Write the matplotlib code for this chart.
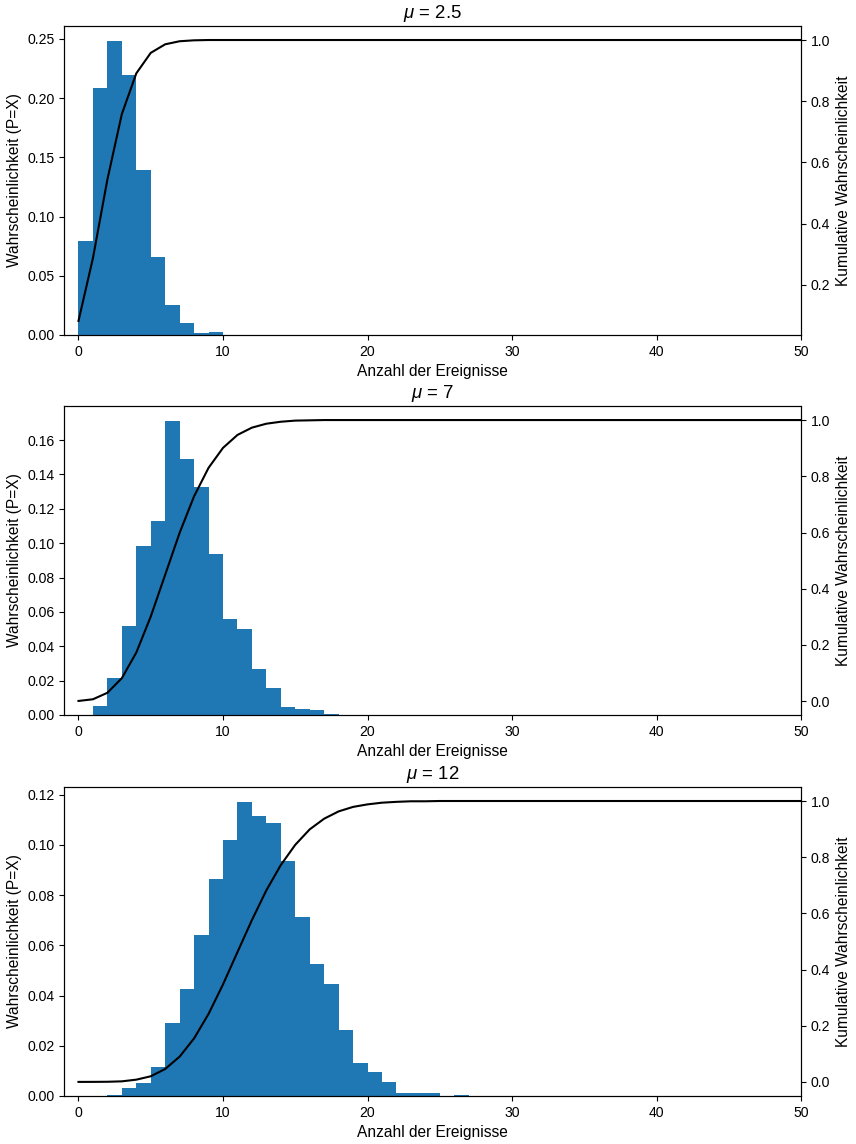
import matplotlib
matplotlib.use("Agg")
import matplotlib.pyplot as plt

plt.rcParams['font.family'] = ['Liberation Sans', 'DejaVu Sans']
plt.rcParams['mathtext.fontset'] = 'custom'
plt.rcParams['mathtext.it'] = 'Liberation Sans:italic'
plt.rcParams['font.size'] = 11.2
plt.rcParams['xtick.labelsize'] = 10.1
plt.rcParams['ytick.labelsize'] = 10.1

mus = ["2.5", "7", "12"]

# relative frequencies per bin [k, k+1)
start_1 = 0
hist_1 = [0.0797, 0.2088, 0.2485, 0.2198, 0.1395, 0.0659, 0.0256, 0.0104, 0.0020, 0.0025]

start_2 = 1
hist_2 = [0.0054, 0.0217, 0.0518, 0.0981, 0.1130, 0.1713, 0.1491, 0.1328, 0.0938,
          0.0559, 0.0501, 0.0270, 0.0159, 0.0049, 0.0037, 0.0031, 0.0008]

start_3 = 2
hist_3 = [0.0004, 0.0032, 0.0052, 0.0116, 0.0291, 0.0427, 0.0642, 0.0865, 0.1021,
          0.1172, 0.1116, 0.1088, 0.0937, 0.0714, 0.0526, 0.0447, 0.0263, 0.0132,
          0.0096, 0.0056, 0.0012, 0.0012, 0.0012, 0.0, 0.0004]

# cumulative curve, x = 0, 1, 2, ...
cdf_1 = [0.082, 0.287, 0.544, 0.758, 0.891, 0.958, 0.986, 0.996, 0.999, 1.0,
         1.0, 1.0, 1.0, 1.0, 1.0, 1.0, 1.0, 1.0, 1.0, 1.0,
         1.0, 1.0, 1.0, 1.0, 1.0, 1.0, 1.0, 1.0, 1.0, 1.0,
         1.0, 1.0, 1.0, 1.0, 1.0, 1.0, 1.0, 1.0, 1.0, 1.0,
         1.0, 1.0, 1.0, 1.0, 1.0, 1.0, 1.0, 1.0, 1.0, 1.0, 1.0]
cdf_2 = [0.001, 0.007, 0.030, 0.082, 0.173, 0.301, 0.450, 0.599, 0.729, 0.830,
         0.901, 0.947, 0.973, 0.987, 0.994, 0.998, 0.999, 1.0, 1.0, 1.0,
         1.0, 1.0, 1.0, 1.0, 1.0, 1.0, 1.0, 1.0, 1.0, 1.0,
         1.0, 1.0, 1.0, 1.0, 1.0, 1.0, 1.0, 1.0, 1.0, 1.0,
         1.0, 1.0, 1.0, 1.0, 1.0, 1.0, 1.0, 1.0, 1.0, 1.0, 1.0]
cdf_3 = [0.0, 0.0001, 0.0005, 0.002, 0.008, 0.020, 0.046, 0.090, 0.155, 0.242,
         0.347, 0.462, 0.576, 0.682, 0.772, 0.844, 0.899, 0.937, 0.963, 0.979,
         0.988, 0.994, 0.997, 0.999, 0.999, 1.0, 1.0, 1.0, 1.0, 1.0,
         1.0, 1.0, 1.0, 1.0, 1.0, 1.0, 1.0, 1.0, 1.0, 1.0,
         1.0, 1.0, 1.0, 1.0, 1.0, 1.0, 1.0, 1.0, 1.0, 1.0, 1.0]

hists = [(start_1, hist_1), (start_2, hist_2), (start_3, hist_3)]
cdfs = [cdf_1, cdf_2, cdf_3]

fig = plt.figure(figsize=(8.56, 11.44), dpi=100)
bottoms = [0.7072, 0.375, 0.042]

for i in range(3):
    ax = fig.add_axes([0.0748, bottoms[i], 0.861, 0.2701])
    start, h = hists[i]
    xs = [start + k for k in range(len(h))]
    ax.bar(xs, h, width=1, align='edge', color='#1f77b4')
    ax.set_xlim(-1, 50)
    ax.set_title(r"$\mu$ = " + mus[i])
    ax.set_xlabel("Anzahl der Ereignisse")
    ax.set_ylabel("Wahrscheinlichkeit (P=X)")

    ax2 = ax.twinx()
    ax2.plot(range(len(cdfs[i])), cdfs[i], color='black', lw=1.5)
    ax2.set_ylabel("Kumulative Wahrscheinlichkeit")
    ax2.set_xlim(-1, 50)

fig.savefig("out.png", dpi=100)
